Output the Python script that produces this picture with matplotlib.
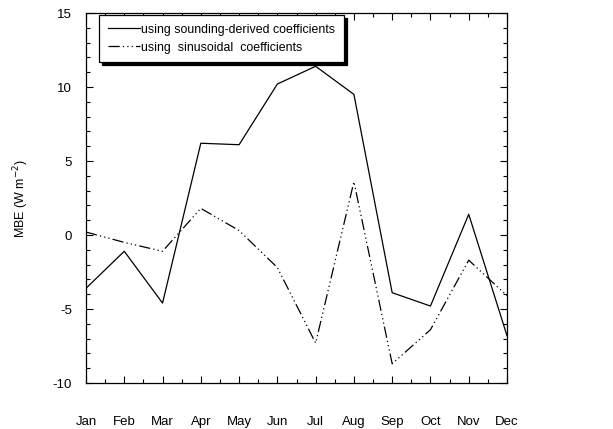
import matplotlib
matplotlib.use("Agg")
import matplotlib.pyplot as plt
from matplotlib.ticker import MultipleLocator

months = ["Jan", "Feb", "Mar", "Apr", "May", "Jun",
          "Jul", "Aug", "Sep", "Oct", "Nov", "Dec"]
mbe_sounding = [-3.6, -1.1, -4.6, 6.2, 6.1, 10.2, 11.4, 9.5, -3.9, -4.8, 1.4, -6.8]
mbe_sinusoidal = [0.2, -0.5, -1.1, 1.8, 0.3, -2.2, -7.3, 3.6, -8.7, -6.4, -1.7, -4.1]

plt.rcParams["font.family"] = ["Liberation Sans", "DejaVu Sans"]
plt.rcParams["axes.unicode_minus"] = False

fig = plt.figure(figsize=(6.13, 4.29), dpi=100)
ax = fig.add_axes([86 / 613, 1 - 383 / 429, 421 / 613, 370 / 429])

x = list(range(len(months)))
ax.plot(x, mbe_sounding, color="black", lw=0.9,
        label="using sounding-derived coefficients")
ax.plot(x, mbe_sinusoidal, color="black", lw=0.9,
        linestyle=(0, (9, 2.5, 1, 2.5, 1, 2.5, 1, 2.5)),
        label="using  sinusoidal  coefficients")

ax.set_xlim(0, 11)
ax.set_ylim(-10, 15)
ax.set_xticks(x)
ax.set_xticklabels(months)
ax.xaxis.set_minor_locator(MultipleLocator(0.5))
ax.set_yticks([-10, -5, 0, 5, 10, 15])
ax.yaxis.set_minor_locator(MultipleLocator(1))

ax.tick_params(axis="x", which="both", direction="in", top=True, bottom=True,
               labelsize=9.5, pad=24)
ax.tick_params(axis="x", which="major", length=5, width=0.8)
ax.tick_params(axis="x", which="minor", length=3, width=0.8)
ax.tick_params(axis="y", which="both", direction="in", left=True, right=True,
               labelsize=9.5, pad=10)
ax.tick_params(axis="y", which="major", length=5, width=0.8)
ax.tick_params(axis="y", which="minor", length=3, width=0.8)

for s in ax.spines.values():
    s.set_linewidth(0.9)

ax.set_ylabel("MBE (W m$^{-2}$)", fontsize=9, labelpad=16)

leg = ax.legend(loc="upper left", bbox_to_anchor=(0.031, 0.995),
                fontsize=8.9, frameon=True, fancybox=False,
                shadow={"color": "black", "alpha": 1.0, "ox": 2, "oy": -2},
                handlelength=2.6, handletextpad=0.1, borderpad=0.7,
                labelspacing=0.5, borderaxespad=0)
leg.get_frame().set_edgecolor("black")
leg.get_frame().set_linewidth(0.9)

fig.savefig("out.png", dpi=100)
